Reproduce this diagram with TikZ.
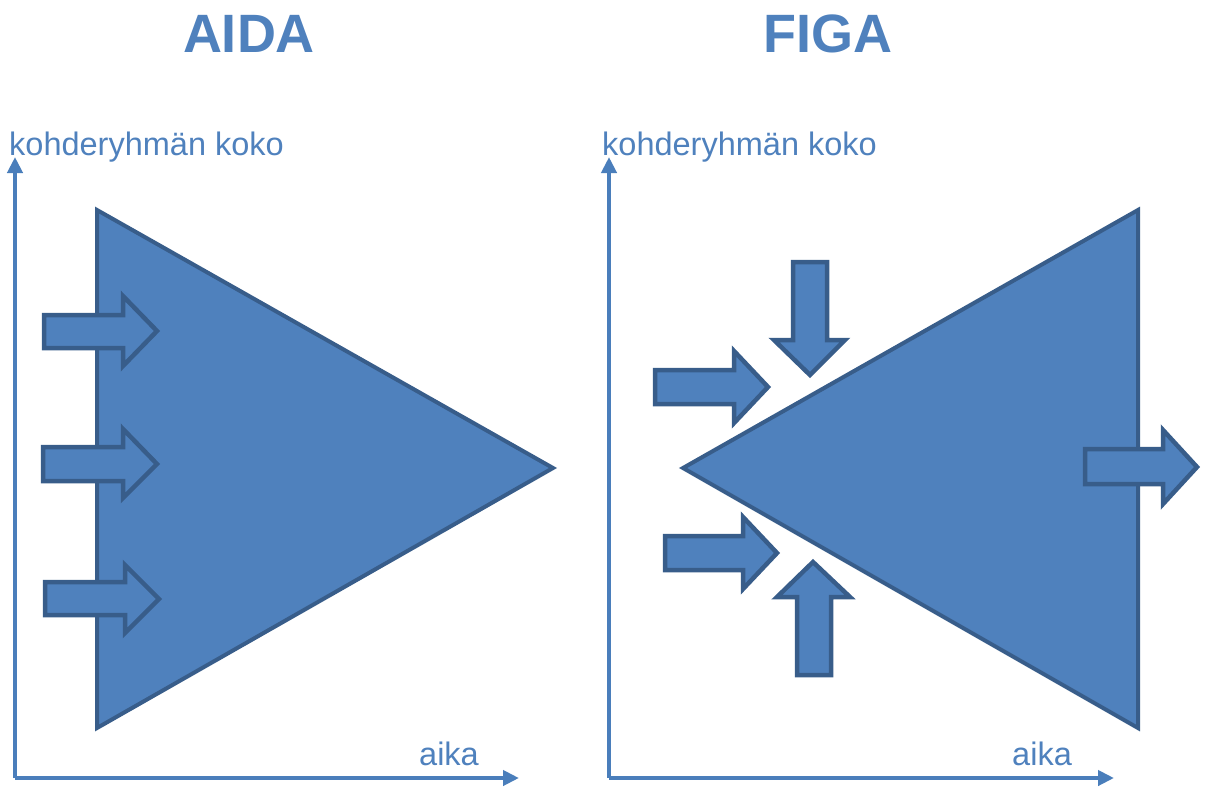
\documentclass[tikz,border=0pt]{standalone}
\usepackage{fontspec}
\setmainfont{Liberation Sans}
\usetikzlibrary{arrows.meta}
\definecolor{fillblue}{HTML}{4F81BD}
\definecolor{edgeblue}{HTML}{385D8A}
\definecolor{axisblue}{HTML}{4A7EBB}
\tikzset{
  shapefill/.style={fill=fillblue, draw=edgeblue, line width=4.5pt, line join=miter},
  trifill/.style={fill=fillblue, draw=edgeblue, line width=4pt, line join=miter},
  axisline/.style={draw=axisblue, line width=4pt, -{Triangle[length=16pt,width=15pt]}},
  axislabel/.style={text=fillblue, font=\fontsize{32.5}{32.5}\selectfont, inner sep=0pt, anchor=base west},
  titlelabel/.style={text=fillblue, font=\fontsize{54}{54}\selectfont\bfseries, inner sep=0pt, anchor=base}
}
\begin{document}
\begin{tikzpicture}[x=1pt,y=-1pt]
\useasboundingbox (0,0) rectangle (1206,787);
% titles
\node[titlelabel] (t1) at (249,52) {AIDA};
\node[titlelabel] (t2) at (828,52) {FIGA};
% left axes
\coordinate (o1) at (15,778);
\coordinate (y1) at (15,157);
\coordinate (x1) at (519,778);
\draw[axisline] (o1) -- (y1);
\draw[axisline] (o1) -- (x1);
\node[axislabel] (yl1) at (9,155) {kohderyhmän koko};
\node[axislabel] (xl1) at (419,765) {aika};
% right axes
\coordinate (o2) at (609,778);
\coordinate (y2) at (609,157);
\coordinate (x2) at (1114,778);
\draw[axisline] (o2) -- (y2);
\draw[axisline] (o2) -- (x2);
\node[axislabel] (yl2) at (602,155) {kohderyhmän koko};
\node[axislabel] (xl2) at (1012,765) {aika};
% AIDA triangle
\draw[trifill] (97,210) -- (553,468) -- (97,728) -- cycle;
% AIDA arrows
\draw[shapefill] (44,315) -- (123,315) -- (123,296) -- (157,331) -- (123,366) -- (123,348) -- (44,348) -- cycle;
\draw[shapefill] (43,447) -- (123,447) -- (123,429) -- (157,464) -- (123,498) -- (123,481) -- (43,481) -- cycle;
\draw[shapefill] (45,582) -- (125,582) -- (125,565) -- (159,599) -- (125,633) -- (125,615) -- (45,615) -- cycle;
% FIGA triangle
\draw[trifill] (683,468) -- (1138,210) -- (1138,728) -- cycle;
% FIGA arrows
\draw[shapefill] (655,370) -- (734,370) -- (734,351) -- (768,387) -- (734,423) -- (734,404) -- (655,404) -- cycle;
\draw[shapefill] (793,262) -- (827,262) -- (827,340) -- (845,340) -- (810,375) -- (774,340) -- (793,340) -- cycle;
\draw[shapefill] (665,536) -- (743,536) -- (743,517) -- (777,553) -- (743,589) -- (743,570) -- (665,570) -- cycle;
\draw[shapefill] (797,675) -- (831,675) -- (831,597) -- (850,597) -- (813,562) -- (777,597) -- (797,597) -- cycle;
\draw[shapefill] (1085,449) -- (1163,449) -- (1163,430) -- (1197,467) -- (1163,504) -- (1163,484) -- (1085,484) -- cycle;
\end{tikzpicture}
\end{document}
